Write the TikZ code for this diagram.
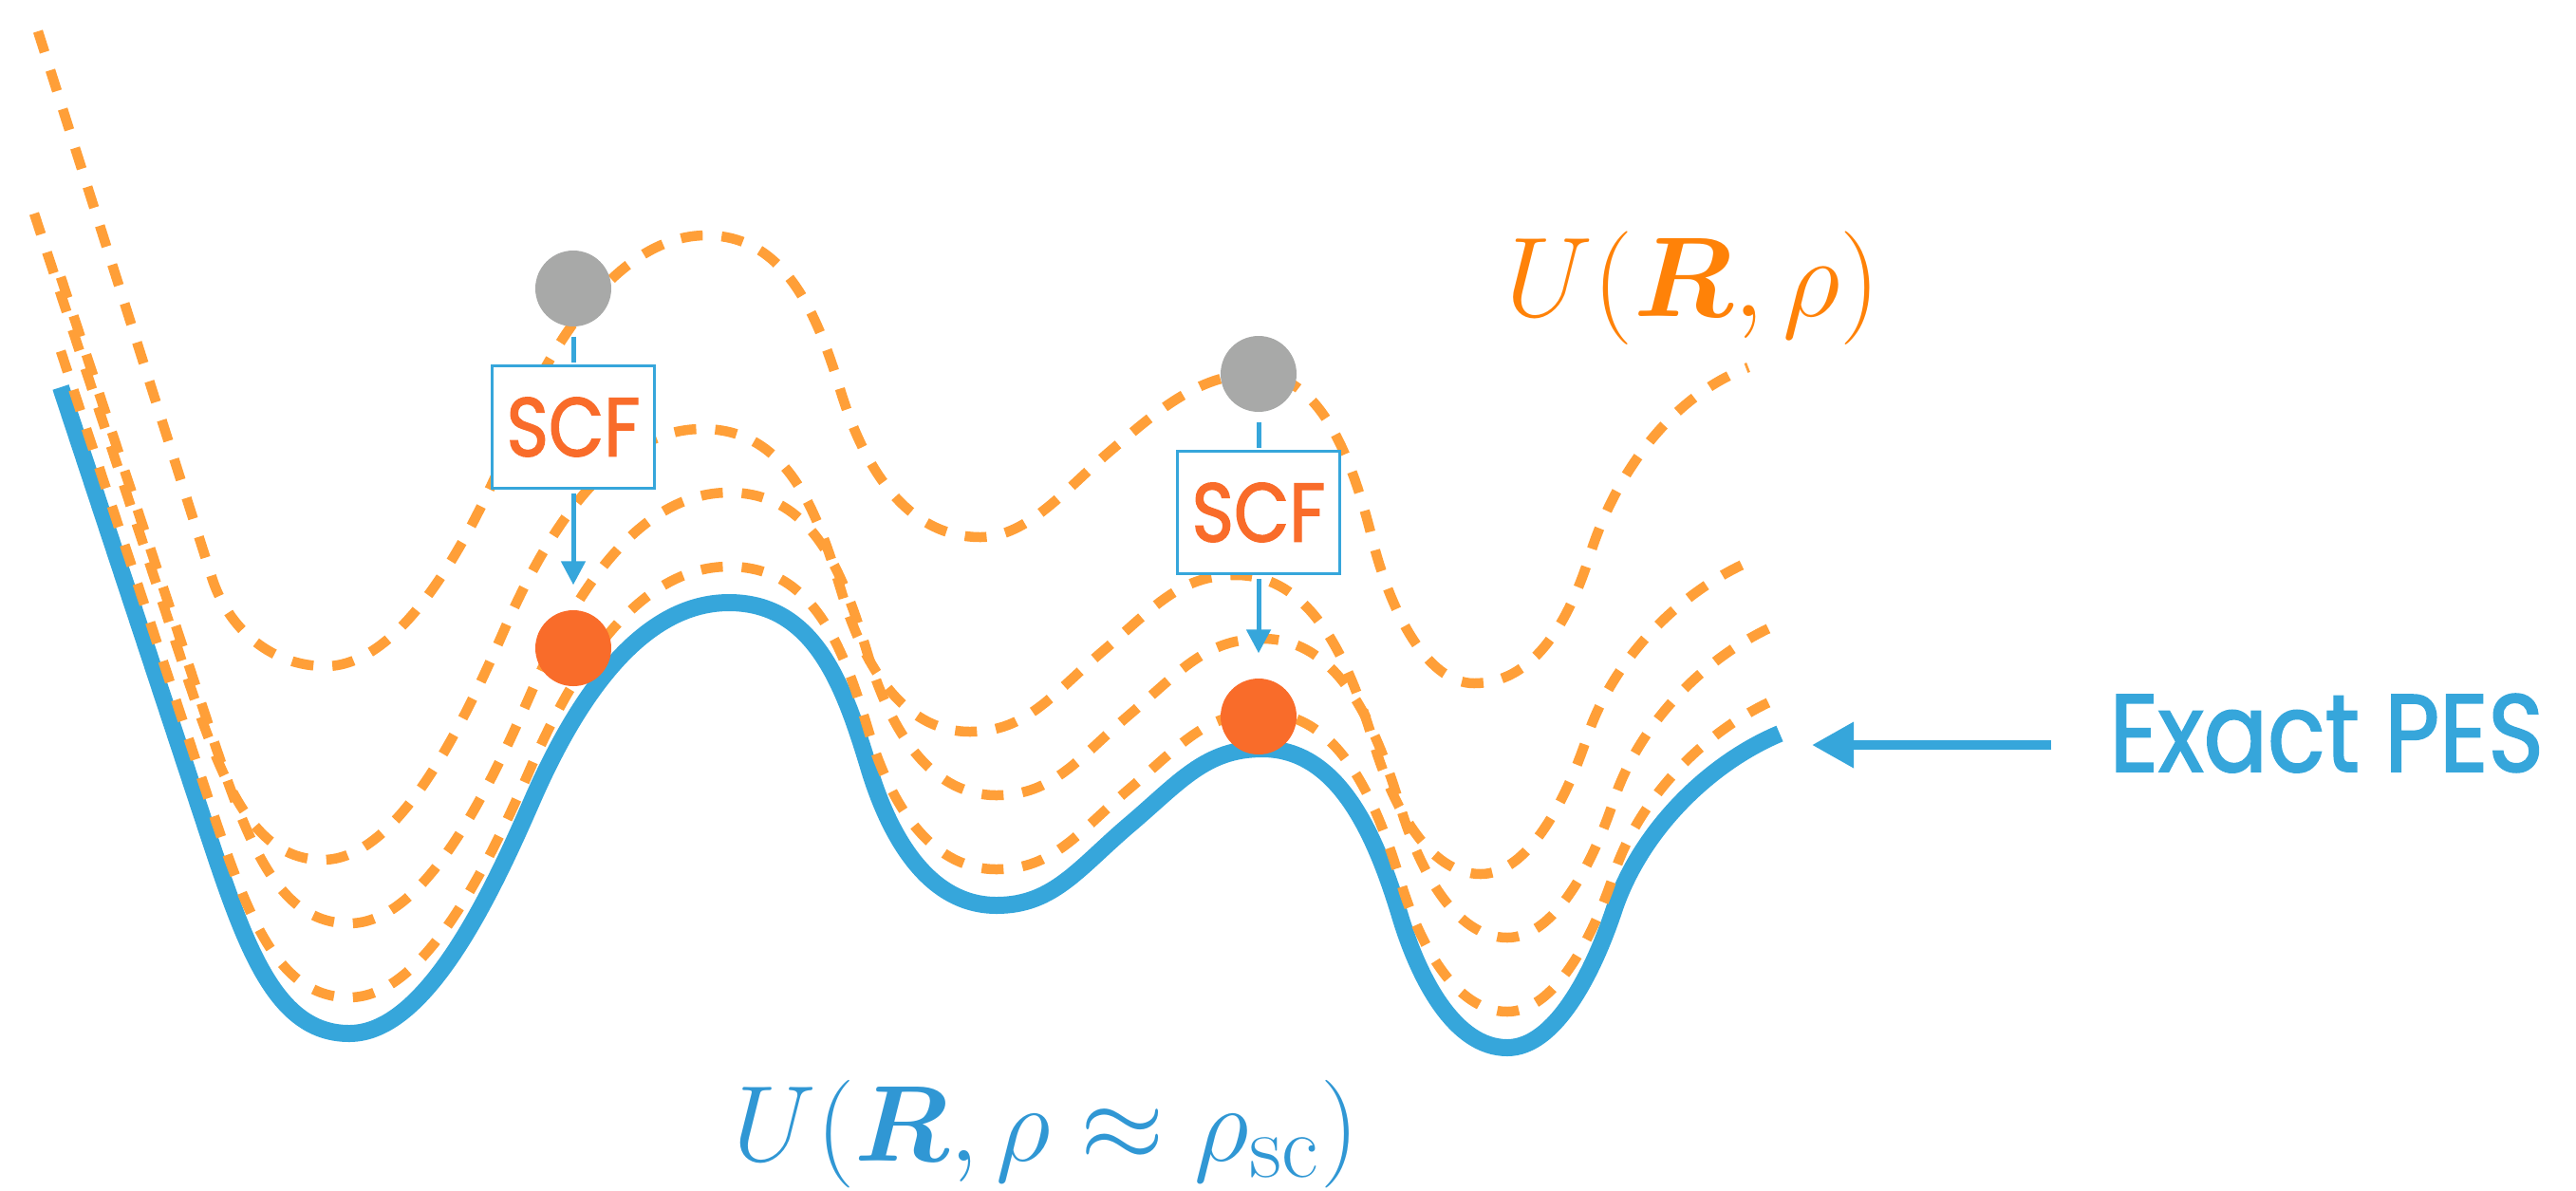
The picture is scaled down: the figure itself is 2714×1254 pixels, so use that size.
\documentclass[tikz,border=0pt]{standalone}
\usepackage{amsmath,bm}
\usepackage{fontspec}
\newfontfamily\geofont[FakeStretch=0.86,FakeBold=1.6]{Poppins}
\usetikzlibrary{arrows.meta}
\definecolor{pesblue}{HTML}{36A6DB}
\definecolor{labblue}{HTML}{3097D4}
\definecolor{dashorange}{HTML}{FF9F38}
\definecolor{laborange}{HTML}{FF8208}
\definecolor{scfred}{HTML}{F96C2A}
\definecolor{ballgray}{HTML}{A8A9A8}
\tikzset{pesline/.style={draw=pesblue,line width=1.8mm,line join=round},
 pesdash/.style={draw=dashorange,line width=1.05mm,dash pattern=on 2.3mm off 2mm},
 ball/.style={circle,minimum size=8mm,inner sep=0pt},
 scfbox/.style={draw=pesblue,fill=white,line width=.8pt,minimum width=17.1mm,minimum height=12.9mm,
 inner sep=0pt,font=\geofont\fontsize{25}{30}\selectfont,text=scfred},
 link/.style={draw=pesblue,line width=.5mm,shorten <=1mm,shorten >=.2mm},
 arr/.style={link,-{Triangle[length=2.5mm,width=2.5mm]},shorten <=.4mm,shorten >=2.6mm},
 bigarr/.style={draw=pesblue,line width=1mm,-{Triangle[length=4.4mm,width=4.6mm]},shorten <=6.1mm}}

\begin{document}
\begin{tikzpicture}[x=0.1mm,y=-0.1mm]
\useasboundingbox (0,0) rectangle (2714,1254);

% exact PES and the three shifted guesses
\foreach \sty/\dx/\dy in {pesline/0/0, pesdash/0/-38, pesdash/0/-116, pesdash/-28/-183}
 \draw[\sty,shift={(\dx,\dy)}] (64,408) -- (223,890)
  .. controls (261,1004) and (293,1089) .. (368,1089)
  .. controls (448,1089) and (516,946) .. (560,845)
  .. controls (600,753) and (668,635) .. (768,635)
  .. controls (858,635) and (889,722) .. (915,808)
  .. controls (938,885) and (980,954) .. (1050,954)
  .. controls (1110,954) and (1137,914) .. (1190,869)
  .. controls (1243,824) and (1270,789) .. (1330,789)
  .. controls (1410,789) and (1449,879) .. (1475,965)
  .. controls (1495,1032) and (1533,1104) .. (1588,1104)
  .. controls (1638,1104) and (1678,1026) .. (1700,960)
  .. controls (1728,875) and (1801,804) .. (1875,773);

% starting guess U(R,rho)
\draw[pesdash] (40,33) -- (223,608)
  .. controls (241,665) and (288,702) .. (343,702)
  .. controls (433,702) and (510,534) .. (540,460)
  .. controls (581,358) and (654,248) .. (744,248)
  .. controls (824,248) and (859,324) .. (885,410)
  .. controls (914,506) and (963,566) .. (1033,566)
  .. controls (1083,566) and (1124,514) .. (1170,475)
  .. controls (1216,436) and (1262,394) .. (1322,394)
  .. controls (1382,394) and (1418,458) .. (1445,565)
  .. controls (1464,643) and (1503,720) .. (1553,720)
  .. controls (1613,720) and (1651,661) .. (1675,585)
  .. controls (1705,490) and (1767,415) .. (1842,387);

% SCF steps
\node[ball,fill=ballgray] (g1) at (604,304) {};
\node[scfbox] (scf1) at (604,450) {SCF};
\node[ball,fill=scfred] (b1) at (604,683) {};
\draw[link] (g1) -- (scf1);
\draw[arr] (scf1) -- (b1);

\node[ball,fill=ballgray] (g2) at (1326,394) {};
\node[scfbox] (scf2) at (1326,540) {SCF};
\node[ball,fill=scfred] (b2) at (1326,755) {};
\draw[link] (g2) -- (scf2);
\draw[arr] (scf2) -- (b2);

% labels
\node[anchor=base,inner sep=0pt,text=laborange,font=\Huge] (ulab) at (1784,333) {\scalebox{1.367}{$U(\bm{R},\rho)$}};
\node[anchor=base,inner sep=0pt,text=labblue,font=\Huge] (sclab) at (1102,1223) {\scalebox{1.30}{$U(\bm{R},\rho\approx\rho_{\mathrm{sc}})$}};
\node[anchor=base west,inner sep=0pt,text=pesblue,font=\geofont\fontsize{33}{40}\selectfont] (pes) at (2222,813) {Exact PES};
\coordinate (tip) at (1909,785);
\draw[bigarr] (pes.west |- tip) -- (tip);
\end{tikzpicture}
\end{document}
